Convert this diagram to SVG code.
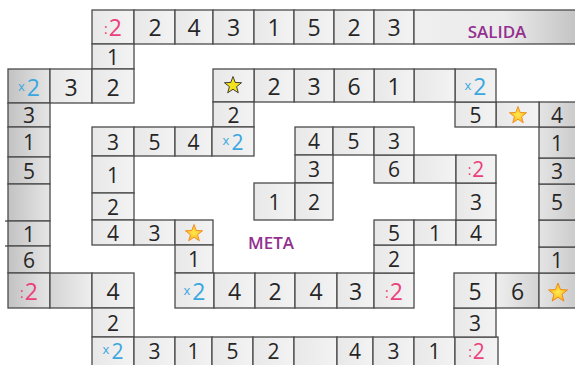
<svg xmlns="http://www.w3.org/2000/svg" width="575" height="365" viewBox="0 0 575 365">
<defs>
<linearGradient id="gReg" x1="0" y1="0" x2="1" y2="0"><stop offset="0" stop-color="#e8e8e8"/><stop offset="1" stop-color="#f3f3f3"/></linearGradient>
<linearGradient id="gLeft" x1="0" y1="0" x2="1" y2="0"><stop offset="0" stop-color="#c2c2c2"/><stop offset="1" stop-color="#e6e6e6"/></linearGradient>
<linearGradient id="gMid" x1="0" y1="0" x2="1" y2="0"><stop offset="0" stop-color="#d4d4d4"/><stop offset="1" stop-color="#eeeeee"/></linearGradient>
<linearGradient id="gCol" x1="0" y1="0" x2="1" y2="0"><stop offset="0" stop-color="#e4e4e4"/><stop offset="1" stop-color="#cbcbcb"/></linearGradient>
<linearGradient id="gSix" x1="0" y1="0" x2="1" y2="0"><stop offset="0" stop-color="#eeeeee"/><stop offset="1" stop-color="#d3d3d3"/></linearGradient>
<linearGradient id="gSal" x1="0" y1="0" x2="1" y2="0"><stop offset="0" stop-color="#efefef"/><stop offset="0.55" stop-color="#ebebeb"/><stop offset="1" stop-color="#c3c3c3"/></linearGradient>
<radialGradient id="gStar" cx="0.5" cy="0.5" r="0.5"><stop offset="0" stop-color="#ffec4a"/><stop offset="1" stop-color="#fbb323"/></radialGradient>
<path id="star" d="M0,-10 L2.47,-3.4 L9.51,-3.09 L3.99,1.3 L5.88,8.09 L0,4.2 L-5.88,8.09 L-3.99,1.3 L-9.51,-3.09 L-2.47,-3.4 Z"/>
</defs>
<style>
.c{fill:url(#gReg);stroke:#4b4b4b;stroke-width:1.3}
.cl{fill:url(#gLeft);stroke:#4b4b4b;stroke-width:1.3}
.cm{fill:url(#gMid);stroke:#4b4b4b;stroke-width:1.3}
.cr{fill:url(#gCol);stroke:#4b4b4b;stroke-width:1.3}
.c6{fill:url(#gSix);stroke:#4b4b4b;stroke-width:1.3}
.cs{fill:url(#gSal);stroke:#4b4b4b;stroke-width:1.3}
.d{font-family:"Open Sans","Liberation Sans",sans-serif;text-anchor:middle;fill:#262626}
.a{font-size:23px}
.b{font-size:21px}
.pk{fill:#ec3f7c}
.bl{fill:#3aa7df}
.sx{font-size:13px}
.sc{font-size:14px}
.lbl{font-family:"Open Sans","Liberation Sans",sans-serif;font-size:17px;font-weight:600;fill:#93308f;text-anchor:middle}
.so{fill:url(#gStar);stroke:#f08a1c;stroke-width:1}
.sy{fill:#f4e21c;stroke:#2b2b2b;stroke-width:1}
.tk{stroke:#4b4b4b;stroke-width:1.3}
</style>

<g id="top-row">
<g id="t1"><rect class="c" x="92" y="10" width="42" height="34"/><text class="d a pk" x="113" y="36"><tspan class="sc" baseline-shift="2">:</tspan><tspan dx="1">2</tspan></text></g>
<g id="t2"><rect class="c" x="134" y="10" width="41" height="34"/><text class="d a" x="155" y="36">2</text></g>
<g id="t3"><rect class="c" x="175" y="10" width="38" height="34"/><text class="d a" x="194" y="36">4</text></g>
<g id="t4"><rect class="c" x="213" y="10" width="41" height="34"/><text class="d a" x="233.5" y="36">3</text></g>
<g id="t5"><rect class="c" x="254" y="10" width="40" height="34"/><text class="d a" x="274" y="36">1</text></g>
<g id="t6"><rect class="c" x="294" y="10" width="40" height="34"/><text class="d a" x="314" y="36">5</text></g>
<g id="t7"><rect class="c" x="334" y="10" width="40" height="34"/><text class="d a" x="354" y="36">2</text></g>
<g id="t8"><rect class="c" x="374" y="10" width="40" height="34"/><text class="d a" x="394" y="36">3</text></g>
<g id="salida"><rect class="cs" x="414" y="10" width="164" height="34"/><text class="lbl" x="497" y="38">SALIDA</text></g>
</g>

<g id="a1"><rect class="c" x="92" y="44" width="42" height="25"/><text class="d b" x="113" y="64.5">1</text></g>
<g id="a2"><rect class="cl" x="8" y="69" width="42" height="34"/><text class="d a bl" x="29" y="95.5"><tspan class="sx" baseline-shift="5">x</tspan><tspan dx="2">2</tspan></text></g>
<g id="a3"><rect class="c" x="50" y="69" width="42" height="34"/><text class="d a" x="71" y="95.5">3</text></g>
<g id="a4"><rect class="c" x="92" y="69" width="42" height="34"/><text class="d a" x="113" y="95.5">2</text></g>

<g id="left-column">
<g id="l1"><rect class="cl" x="8" y="103" width="42" height="24"/><text class="d b" x="29" y="122.5">3</text></g>
<g id="l2"><rect class="cl" x="8" y="127" width="42" height="30"/><text class="d b" x="29" y="150">1</text></g>
<g id="l3"><rect class="cl" x="8" y="157" width="42" height="27"/><text class="d b" x="29" y="178.5">5</text></g>
<g id="l4"><rect class="cl" x="8" y="184" width="42" height="37"/></g>
<g id="l5"><rect class="cl" x="8" y="221" width="42" height="25"/><line class="tk" x1="5" y1="221" x2="8" y2="221"/><line class="tk" x1="5" y1="246" x2="8" y2="246"/><text class="d b" x="29" y="241.5">1</text></g>
<g id="l6"><rect class="cl" x="8" y="246" width="42" height="27"/><text class="d b" x="29" y="267.5">6</text></g>
<g id="l7"><rect class="cl" x="8" y="273" width="42" height="35"/><text class="d a pk" x="29" y="299.5"><tspan class="sc" baseline-shift="2">:</tspan><tspan dx="1">2</tspan></text></g>
</g>

<g id="b1"><rect class="cm" x="50" y="273" width="42" height="35"/></g>
<g id="b2"><rect class="c" x="92" y="273" width="42" height="35"/><text class="d a" x="113" y="299.5">4</text></g>
<g id="b3"><rect class="c" x="92" y="308" width="42" height="29"/><text class="d b" x="113" y="330.5">2</text></g>

<g id="bottom-row">
<g id="bt1"><rect class="c" x="92" y="337" width="42" height="30"/><text class="d b bl" x="113" y="358.5"><tspan class="sx" baseline-shift="5">x</tspan><tspan dx="2">2</tspan></text></g>
<g id="bt2"><rect class="c" x="134" y="337" width="41" height="30"/><text class="d b" x="154.5" y="358.5">3</text></g>
<g id="bt3"><rect class="c" x="175" y="337" width="37" height="30"/><text class="d b" x="193.5" y="358.5">1</text></g>
<g id="bt4"><rect class="c" x="212" y="337" width="41" height="30"/><text class="d b" x="232.5" y="358.5">5</text></g>
<g id="bt5"><rect class="c" x="253" y="337" width="41" height="30"/><text class="d b" x="273.5" y="358.5">2</text></g>
<g id="bt6"><rect class="c" x="294" y="337" width="43" height="30"/></g>
<g id="bt7"><rect class="c" x="337" y="337" width="36" height="30"/><text class="d b" x="355" y="358.5">4</text></g>
<g id="bt8"><rect class="c" x="373" y="337" width="41" height="30"/><text class="d b" x="393.5" y="358.5">3</text></g>
<g id="bt9"><rect class="c" x="414" y="337" width="41" height="30"/><text class="d b" x="434.5" y="358.5">1</text></g>
<g id="bt10"><rect class="c" x="455" y="337" width="43" height="30"/><text class="d b pk" x="476.5" y="358.5"><tspan class="sc" baseline-shift="2">:</tspan><tspan dx="1">2</tspan></text></g>
</g>

<g id="r1"><rect class="c" x="454" y="308" width="42" height="29"/><text class="d b" x="475" y="330.5">3</text></g>
<g id="r2"><rect class="c" x="454" y="273" width="42" height="35"/><text class="d a" x="475" y="299.5">5</text></g>
<g id="r3"><rect class="c6" x="496" y="273" width="43" height="35"/><text class="d a" x="517.5" y="299.5">6</text></g>
<g id="r4"><rect class="cr" x="539" y="273" width="38" height="35"/><use href="#star" class="so" transform="translate(558,293)"/></g>

<g id="right-column">
<g id="rc1"><rect class="cr" x="539" y="247" width="38" height="26"/><text class="d b" x="557" y="268">1</text></g>
<g id="rc2"><rect class="cr" x="539" y="220" width="38" height="27"/></g>
<g id="rc3"><rect class="cr" x="539" y="184" width="38" height="36"/><text class="d b" x="557" y="210">5</text></g>
<g id="rc4"><rect class="cr" x="539" y="158" width="38" height="26"/><text class="d b" x="557" y="179">3</text></g>
<g id="rc5"><rect class="cr" x="539" y="127" width="38" height="31"/><text class="d b" x="557" y="150.5">1</text></g>
<g id="rc6"><rect class="cr" x="539" y="102" width="38" height="25"/><text class="d b" x="557" y="122.5">4</text></g>
</g>

<g id="r5"><rect class="c" x="496" y="102" width="43" height="25"/><use href="#star" class="so" transform="translate(518,115.5) scale(0.9)"/></g>
<g id="r6"><rect class="c" x="455" y="102" width="41" height="25"/><text class="d b" x="475.5" y="122.5">5</text></g>

<g id="second-row">
<g id="m1"><rect class="c" x="455" y="69" width="41" height="33"/><text class="d a bl" x="475.5" y="94.5"><tspan class="sx" baseline-shift="5">x</tspan><tspan dx="2">2</tspan></text></g>
<g id="m2"><rect class="c" x="414" y="69" width="41" height="33"/></g>
<g id="m3"><rect class="c" x="374" y="69" width="40" height="33"/><text class="d a" x="394" y="94.5">1</text></g>
<g id="m4"><rect class="c" x="334" y="69" width="40" height="33"/><text class="d a" x="354" y="94.5">6</text></g>
<g id="m5"><rect class="c" x="294" y="69" width="40" height="33"/><text class="d a" x="314" y="94.5">3</text></g>
<g id="m6"><rect class="c" x="254" y="69" width="40" height="33"/><text class="d a" x="274" y="94.5">2</text></g>
<g id="m7"><rect class="c" x="213" y="69" width="41" height="33"/><use href="#star" class="sy" transform="translate(233,85.5) scale(0.9)"/></g>
</g>
<g id="m8"><rect class="c" x="213" y="102" width="41" height="25"/><text class="d b" x="233.5" y="122.5">2</text></g>

<g id="n1"><rect class="c" x="92" y="127" width="42" height="29"/><text class="d b" x="113" y="149.5">3</text></g>
<g id="n2"><rect class="c" x="134" y="127" width="41" height="29"/><text class="d b" x="154.5" y="149.5">5</text></g>
<g id="n3"><rect class="c" x="175" y="127" width="37" height="29"/><text class="d b" x="193.5" y="149.5">4</text></g>
<g id="n4"><rect class="c" x="212" y="127" width="42" height="29"/><text class="d b bl" x="233" y="149.5"><tspan class="sx" baseline-shift="5">x</tspan><tspan dx="2">2</tspan></text></g>
<g id="n5"><rect class="c" x="92" y="156" width="42" height="37"/><text class="d b" x="113" y="183">1</text></g>
<g id="n6"><rect class="c" x="92" y="193" width="42" height="27"/><text class="d b" x="113" y="214.5">2</text></g>

<g id="p1"><rect class="c" x="92" y="220" width="42" height="25"/><text class="d b" x="113" y="240.5">4</text></g>
<g id="p2"><rect class="c" x="134" y="220" width="41" height="25"/><text class="d b" x="154.5" y="240.5">3</text></g>
<g id="p3"><rect class="c" x="175" y="220" width="38" height="25"/><use href="#star" class="so" transform="translate(194,233.5) scale(0.9)"/></g>
<g id="p4"><rect class="c" x="175" y="245" width="38" height="28"/><text class="d b" x="194" y="267">1</text></g>

<g id="meta"><text class="lbl" x="271" y="249">META</text></g>

<g id="q1"><rect class="c" x="175" y="273" width="39" height="35"/><text class="d a bl" x="194.5" y="299.5"><tspan class="sx" baseline-shift="5">x</tspan><tspan dx="2">2</tspan></text></g>
<g id="q2"><rect class="c" x="214" y="273" width="41" height="35"/><text class="d a" x="234.5" y="299.5">4</text></g>
<g id="q3"><rect class="c" x="255" y="273" width="40" height="35"/><text class="d a" x="275" y="299.5">2</text></g>
<g id="q4"><rect class="c" x="295" y="273" width="42" height="35"/><text class="d a" x="316" y="299.5">4</text></g>
<g id="q5"><rect class="c" x="337" y="273" width="37" height="35"/><text class="d a" x="355.5" y="299.5">3</text></g>
<g id="q6"><rect class="c" x="374" y="273" width="40" height="35"/><text class="d a pk" x="394" y="299.5"><tspan class="sc" baseline-shift="2">:</tspan><tspan dx="1">2</tspan></text></g>
<g id="q7"><rect class="c" x="374" y="245" width="40" height="28"/><text class="d b" x="394" y="267">2</text></g>

<g id="s1"><rect class="c" x="374" y="220" width="40" height="25"/><text class="d b" x="394" y="240.5">5</text></g>
<g id="s2"><rect class="c" x="414" y="220" width="42" height="25"/><text class="d b" x="435" y="240.5">1</text></g>
<g id="s3"><rect class="c" x="456" y="220" width="40" height="25"/><text class="d b" x="476" y="240.5">4</text></g>
<g id="s4"><rect class="c" x="456" y="183" width="40" height="37"/><text class="d b" x="476" y="209.5">3</text></g>

<g id="u1"><rect class="c" x="374" y="155" width="40" height="28"/><text class="d b" x="394" y="177">6</text></g>
<g id="u2"><rect class="c" x="414" y="155" width="42" height="28"/></g>
<g id="u3"><rect class="c" x="456" y="155" width="40" height="28"/><text class="d b pk" x="476" y="177"><tspan class="sc" baseline-shift="2">:</tspan><tspan dx="1">2</tspan></text></g>

<g id="v1"><rect class="c" x="295" y="127" width="38" height="28"/><text class="d b" x="314" y="149">4</text></g>
<g id="v2"><rect class="c" x="333" y="127" width="41" height="28"/><text class="d b" x="353.5" y="149">5</text></g>
<g id="v3"><rect class="c" x="374" y="127" width="40" height="28"/><text class="d b" x="394" y="149">3</text></g>
<g id="v4"><rect class="c" x="295" y="155" width="38" height="28"/><text class="d b" x="314" y="177">3</text></g>

<g id="w1"><rect class="c" x="254" y="183" width="41" height="37"/><text class="d b" x="274.5" y="210">1</text></g>
<g id="w2"><rect class="c" x="295" y="183" width="38" height="37"/><text class="d b" x="314" y="210">2</text></g>

<g id="connectors"/>
</svg>
